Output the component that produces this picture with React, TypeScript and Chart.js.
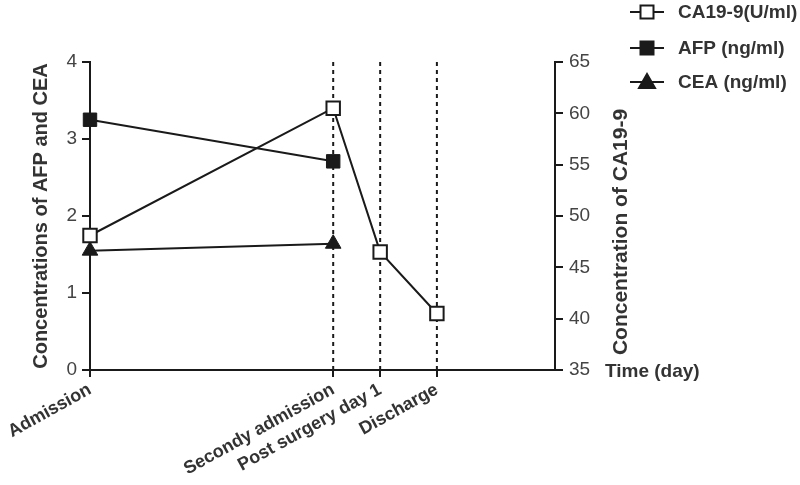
import React, { useEffect, useRef } from "react";
import { Chart, registerables } from "chart.js";
Chart.register(...registerables);

const FONT = '"Liberation Sans", Arial, Helvetica, sans-serif';

const timeLabels = ["Admission", "Secondy admission", "Post surgery day 1", "Discharge"];
const timePositions = [0, 52.3, 62.4, 74.6];
const ca199Values = [48.1, 60.5, 46.5, 40.5];
const afpValues = [3.25, 2.71];
const ceaValues = [1.55, 1.64];
const dashedPositions = [52.3, 62.4, 74.6];
const legendLabels = ["CA19-9(U/ml)", "AFP (ng/ml)", "CEA (ng/ml)"];
const leftTitle = "Concentrations of AFP and CEA";
const rightTitle = "Concentration of CA19-9";
const xTitle = "Time (day)";

const INK = "#1a1a1a";
const TXT = "#333";

function drawMarker(ctx: CanvasRenderingContext2D, style: string, x: number, y: number, fill: string) {
  ctx.save();
  ctx.lineWidth = 2;
  ctx.strokeStyle = INK;
  ctx.fillStyle = fill;
  ctx.beginPath();
  if (style === "triangle") {
    ctx.moveTo(x, y - 8);
    ctx.lineTo(x + 8, y + 6);
    ctx.lineTo(x - 8, y + 6);
    ctx.closePath();
  } else {
    ctx.rect(x - 6.5, y - 6.5, 13, 13);
  }
  ctx.fill();
  ctx.stroke();
  ctx.restore();
}

const extrasPlugin = {
  id: "extras",
  beforeDatasetsDraw(chart: any) {
    const { ctx, chartArea, scales } = chart;
    ctx.save();
    ctx.strokeStyle = INK;
    ctx.lineWidth = 2;
    ctx.setLineDash([4, 4]);
    dashedPositions.forEach((v) => {
      const px = scales.x.getPixelForValue(v);
      ctx.beginPath();
      ctx.moveTo(px, chartArea.top);
      ctx.lineTo(px, chartArea.bottom);
      ctx.stroke();
    });
    ctx.restore();
  },
  afterDraw(chart: any) {
    const { ctx, chartArea } = chart;
    ctx.save();
    const styles = ["rect", "rect", "triangle"];
    const fills = ["#fff", INK, INK];
    const ys = [12, 48, 82];
    legendLabels.forEach((label, i) => {
      const y = ys[i];
      ctx.strokeStyle = INK;
      ctx.lineWidth = 2;
      ctx.beginPath();
      ctx.moveTo(630, y);
      ctx.lineTo(664, y);
      ctx.stroke();
      drawMarker(ctx, styles[i], 647, y, fills[i]);
      ctx.fillStyle = TXT;
      ctx.font = `bold 19px ${FONT}`;
      ctx.textAlign = "left";
      ctx.textBaseline = "middle";
      ctx.fillText(label, 678, y + 1);
    });
    ctx.fillStyle = TXT;
    ctx.font = `bold 19px ${FONT}`;
    ctx.textAlign = "left";
    ctx.textBaseline = "middle";
    ctx.fillText(xTitle, chartArea.right + 50, chartArea.bottom + 2);
    ctx.font = `bold 21px ${FONT}`;
    ctx.translate(chartArea.right + 66, 232);
    ctx.rotate(-Math.PI / 2);
    ctx.textAlign = "center";
    ctx.fillText(rightTitle, 0, 0);
    ctx.restore();
  },
};

export default function App() {
  const ref = useRef<HTMLCanvasElement>(null);
  useEffect(() => {
    if (!ref.current) return;
    Chart.defaults.font.family = FONT;
    const axisGrid = { drawOnChartArea: false, drawTicks: true, tickLength: 8, color: INK, lineWidth: 2 };
    const chart = new Chart(ref.current, {
      type: "line",
      data: {
        datasets: [
          {
            label: legendLabels[0],
            yAxisID: "y1",
            clip: false,
            data: timePositions.map((x, i) => ({ x, y: ca199Values[i] })),
            borderColor: INK,
            borderWidth: 2,
            pointStyle: "rect",
            pointRadius: 9.5,
            pointBackgroundColor: "#fff",
            pointBorderColor: INK,
            pointBorderWidth: 2,
          },
          {
            label: legendLabels[1],
            yAxisID: "y",
            clip: false,
            data: afpValues.map((y, i) => ({ x: timePositions[i], y })),
            borderColor: INK,
            borderWidth: 2,
            pointStyle: "rect",
            pointRadius: 9.5,
            pointBackgroundColor: INK,
            pointBorderColor: INK,
            pointBorderWidth: 1,
          },
          {
            label: legendLabels[2],
            yAxisID: "y",
            clip: false,
            data: ceaValues.map((y, i) => ({ x: timePositions[i], y })),
            borderColor: INK,
            borderWidth: 2,
            pointStyle: "triangle",
            pointRadius: 9,
            pointBackgroundColor: INK,
            pointBorderColor: INK,
            pointBorderWidth: 1,
          },
        ],
      },
      options: {
        responsive: false,
        animation: false,
        layout: { padding: { top: 62, left: 0, right: 0, bottom: 0 } },
        plugins: { legend: { display: false }, tooltip: { enabled: false } },
        scales: {
          x: {
            type: "linear",
            position: "bottom",
            min: 0,
            max: 100,
            afterBuildTicks: (s: any) => {
              s.ticks = timePositions.map((v) => ({ value: v }));
            },
            afterFit: (s: any) => {
              s.height = 115;
            },
            ticks: {
              autoSkip: false,
              minRotation: 29,
              maxRotation: 29,
              padding: 2,
              color: TXT,
              font: { size: 18, weight: "bold" },
              callback: (v: any) => {
                const i = timePositions.findIndex((p) => Math.abs(p - v) < 1e-6);
                return i >= 0 ? timeLabels[i] : "";
              },
            },
            grid: { ...axisGrid, tickLength: 7 },
            border: { color: INK, width: 2 },
          },
          y: {
            position: "left",
            min: 0,
            max: 4,
            afterFit: (s: any) => {
              s.width = 90;
            },
            ticks: { stepSize: 1, color: "#444", padding: 5, font: { size: 19 } },
            grid: axisGrid,
            border: { color: INK, width: 2 },
            title: {
              display: true,
              text: leftTitle,
              color: TXT,
              font: { size: 20, weight: "bold" },
              padding: { top: 29, bottom: 0 },
            },
          },
          y1: {
            position: "right",
            min: 35,
            max: 65,
            afterFit: (s: any) => {
              s.width = 245;
            },
            ticks: { stepSize: 5, color: "#444", padding: 6, font: { size: 19 } },
            grid: axisGrid,
            border: { color: INK, width: 2 },
          },
        },
      },
      plugins: [extrasPlugin],
    } as any);
    return () => chart.destroy();
  }, []);
  return (
    <div style={{ position: "absolute", left: 0, top: 0, width: 800, height: 485, background: "#fff" }}>
      <canvas ref={ref} width={800} height={485} />
    </div>
  );
}
